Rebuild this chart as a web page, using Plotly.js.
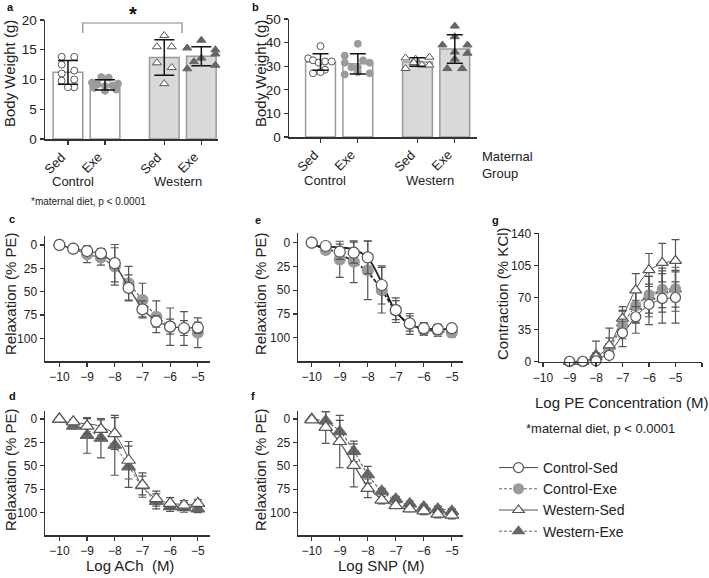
<!DOCTYPE html>
<html>
<head>
<meta charset="utf-8">
<script src="https://cdn.plot.ly/plotly-3.0.1.min.js"></script>
<style>body{margin:0;background:#fff}</style>
</head>
<body>
<div id="graph" style="width:709px;height:578px"></div>
<script>
// ---- body weight bars (a, b) ----
var barGroups = ['Sed', 'Exe', 'Sed', 'Exe'];
var barPos = [0, 1, 2.6, 3.6];

var wtA_mean = [11.2, 9.1, 13.7, 13.9];
var wtA_sd = [2.0, 0.85, 3.0, 1.6];
var wtA_ctrlSed = [13.8, 13.8, 12.5, 11.5, 11.0, 10.0, 9.8, 8.7, 8.7];
var wtA_ctrlExe = [10.4, 10.3, 9.5, 9.3, 9.2, 9.0, 8.9, 8.6, 8.3, 8.1];
var wtA_westSed = [17.4, 15.5, 15.5, 12.8, 12.0, 9.3];
var wtA_westExe = [16.6, 15.3, 15.0, 14.3, 13.6, 13.0, 12.4, 11.8];

var wtB_mean = [31.8, 31.0, 31.8, 37.3];
var wtB_sd = [3.5, 4.3, 1.8, 6.0];
var wtB_ctrlSed = [38.5, 33.3, 32.5, 32.0, 32.0, 31.5, 28.5, 27.0, 27.5];
var wtB_ctrlExe = [39.5, 34.5, 32.5, 31.5, 31.5, 29.5, 29.5, 27.5, 27.0, 26.5];
var wtB_westSed = [33.5, 33.0, 33.8, 31.5, 30.5, 30.5, 29.0];
var wtB_westExe = [47, 42.5, 39, 39, 36, 35.5, 33, 29, 29];

// horizontal scatter of the dots inside each bar
var jitA = [[-0.17, 0.17, -0.17, 0.17, -0.17, 0.17, -0.17, 0.17, 0],
            [-0.1, 0.1, -0.35, 0.35, -0.2, 0.2, 0, -0.3, 0.3, 0],
            [0, -0.2, 0.2, -0.2, 0.2, 0],
            [0, -0.38, 0.38, 0.38, 0, -0.2, 0.38, -0.38]];
var jitB = [[0, -0.33, -0.2, 0.12, 0.3, -0.05, 0.12, -0.2, 0],
            [0, -0.35, 0.14, -0.35, 0.32, -0.17, 0, 0, 0.32, -0.35],
            [-0.32, -0.05, 0.32, -0.1, 0.12, 0.32, -0.32],
            [0, 0, -0.33, 0.34, 0, 0.34, 0, -0.2, 0.2]];

// ---- concentration response (c - g) ----
var logDose = [-10, -9.5, -9, -8.5, -8, -7.5, -7, -6.5, -6, -5.5, -5];

var c_ctrlSed = [0, 4, 6.5, 9, 19.5, 46, 69, 82, 87.5, 89, 88.5];
var c_ctrlSed_sd = [0, 1, 3, 5, 20, 14, 9, 6, 8, 8, 6];
var c_ctrlExe = [0, 4, 10, 13.5, 23, 41, 59, 77, 87.5, 89.5, 94];
var c_ctrlExe_sd = [0, 2, 9, 8, 20, 18, 18, 17, 20, 18, 16];

var e_ctrlSed = [0, 3.5, 9.5, 10.5, 15.5, 44.5, 71, 85, 90, 91, 90];
var e_ctrlSed_sd = [0, 2, 8, 11, 17, 20, 13, 8, 6, 5, 4];
var e_ctrlExe = [0, 7.5, 17.5, 20, 29, 50, 71, 85.5, 91.5, 92.5, 94.5];
var e_ctrlExe_sd = [0, 3, 19, 22, 31, 24, 10, 11, 6, 6, 5];
var e_fitSed = [3, 4, 5, 7, 16, 42, 72, 86, 90, 91, 91];
var e_fitExe = [3, 6, 12, 20, 31, 50, 72, 86, 91, 93, 94];

var d_westSed = [0, 3, 7.5, 11, 15.5, 44, 70.5, 85, 90, 92, 90];
var d_westSed_sd = [0, 2, 8, 10, 17, 20, 13, 8, 6, 5, 4];
var d_westExe = [0, 7.5, 17.5, 20.5, 28, 51, 71, 88, 93.5, 94.5, 96];
var d_westExe_sd = [0, 3, 19, 21, 32, 22, 10, 8, 5, 5, 4];
var d_fitSed = [3, 4, 5, 8, 17, 42, 72, 85, 90, 91, 91];
var d_fitExe = [3, 6, 12, 19, 30, 50, 73, 87, 92, 94, 95];

var f_westSed = [1, 9, 24, 49.5, 74, 86.5, 92.5, 96, 98, 101.5, 102.5];
var f_westSed_sd = [0, 17, 28, 23, 10, 4, 3, 3, 4, 4, 4];
var f_westExe = [0, 2, 13.5, 34.5, 59.5, 77, 85.5, 90.5, 94, 96, 98.5];
var f_westExe_sd = [0, 10, 12, 11, 9, 3, 3, 3, 3, 3, 3];
var f_fitSed = [0, 8, 25, 49, 72, 86, 93, 97, 99, 100, 100];
var f_fitExe = [0, 3, 13, 34, 59, 77, 87, 92, 95, 96, 97];

var logPE = [-9, -8.5, -8, -7.5, -7, -6.5, -6, -5.5, -5];
var g_ctrlSed = [0.5, 0.5, 1, 7, 31.5, 49, 62.5, 69, 70];
var g_ctrlSed_sd = [0, 0, 1, 3, 15, 18, 22, 27, 28];
var g_ctrlExe = [0, 0, 2.5, 14.5, 40, 61, 73, 79, 79.5];
var g_ctrlExe_sd = [0, 0, 2, 5, 15, 18, 20, 20, 20];
var g_westSed = [0, 0, 5.5, 18, 47, 78, 100, 108, 110];
var g_westSed_sd = [0, 0, 4, 8, 13, 18, 18, 21, 23];
var g_westExe = [0, 0, 7.5, 16.5, 42, 60, 71, 78, 79];
var g_westExe_sd = [0, 0, 15, 20, 14, 18, 22, 24, 24];
var g_fitCS = [0, 0.5, 2.5, 10, 29, 49, 62, 68, 70];
var g_fitCE = [0, 1, 4, 15, 39, 61, 73, 78, 80];
var g_fitWS = [0, 1, 5, 18, 48, 79, 99, 107, 110];
var g_fitWE = [0, 1, 5, 17, 41, 60, 71, 76, 79];

var groupNames = ['Control-Sed', 'Control-Exe', 'Western-Sed', 'Western-Exe'];

////////////////////////////////////////////////////
var W = 709, H = 578;
function px(x) { return x / W; }
function py(y) { return 1 - y / H; }
var fam = '"Liberation Sans", Arial, Helvetica, sans-serif';

var styles = {
	cs: {symbol: 'circle', fill: '#ffffff', edge: '#555', dash: 'solid', lc: '#444'},
	ce: {symbol: 'circle', fill: '#9b9b9b', edge: '#9b9b9b', dash: '3px,2px', lc: '#666'},
	ws: {symbol: 'triangle-up', fill: '#ffffff', edge: '#555', dash: 'solid', lc: '#555'},
	we: {symbol: 'triangle-up', fill: '#666666', edge: '#666666', dash: '3px,2px', lc: '#666'}
};

var data = [];

function dots(xa, ya, center, jit, vals, st, size) {
	var xs = [];
	for (var i = 0; i < vals.length; i++) xs.push(center + jit[i]);
	data.push({
		x: xs, y: vals, xaxis: xa, yaxis: ya, type: 'scatter', mode: 'markers',
		marker: {symbol: st.symbol, size: size, color: st.fill, line: {color: st.edge, width: 1}},
		showlegend: false, hoverinfo: 'skip', cliponaxis: false
	});
}

function bars(xa, ya, mean, sd, sets, jit, capw) {
	data.push({
		x: barPos, y: mean, xaxis: xa, yaxis: ya, type: 'bar', width: 0.8,
		marker: {color: ['#ffffff', '#ffffff', '#d9d9d9', '#d9d9d9'], line: {color: '#9a9a9a', width: 1.5}},
		showlegend: false, hoverinfo: 'skip'
	});
	var keys = ['cs', 'ce', 'ws', 'we'];
	for (var k = 0; k < 4; k++) dots(xa, ya, barPos[k], jit[k], sets[k], styles[keys[k]], keys[k].charAt(0) == 'w' ? 8 : 7);
	data.push({
		x: barPos, y: mean, xaxis: xa, yaxis: ya, type: 'scatter', mode: 'markers',
		marker: {size: 1, color: 'rgba(0,0,0,0)'},
		error_y: {type: 'data', array: sd, visible: true, color: '#111', thickness: 1.5, width: capw},
		showlegend: false, hoverinfo: 'skip'
	});
}

function fit(xa, ya, xs, ys, st, w) {
	data.push({
		x: xs, y: ys, xaxis: xa, yaxis: ya, type: 'scatter', mode: 'lines',
		line: {shape: 'spline', smoothing: 1, color: st.lc, width: w, dash: st.dash},
		showlegend: false, hoverinfo: 'skip'
	});
}

function pts(xa, ya, xs, ys, sd, st, size, connect, lw) {
	data.push({
		x: xs, y: ys, xaxis: xa, yaxis: ya, type: 'scatter', mode: connect ? 'lines+markers' : 'markers',
		line: {color: st.lc, width: lw || 1.2, dash: st.dash},
		marker: {symbol: st.symbol, size: size, color: st.fill, line: {color: st.edge, width: 1.2}},
		error_y: {type: 'data', array: sd, visible: true, color: '#555', thickness: 1.2, width: 4},
		showlegend: false, hoverinfo: 'skip', cliponaxis: false
	});
}

// a, b
bars('x', 'y', wtA_mean, wtA_sd, [wtA_ctrlSed, wtA_ctrlExe, wtA_westSed, wtA_westExe], jitA, 10);
bars('x2', 'y2', wtB_mean, wtB_sd, [wtB_ctrlSed, wtB_ctrlExe, wtB_westSed, wtB_westExe], jitB, 8);

// c: points joined
pts('x3', 'y3', logDose, c_ctrlExe, c_ctrlExe_sd, styles.ce, 11, true, 1.2);
pts('x3', 'y3', logDose, c_ctrlSed, c_ctrlSed_sd, styles.cs, 11, true, 1.2);

// e
fit('x4', 'y4', logDose, e_fitExe, {lc: '#222', dash: '4px,2px'}, 1.8);
fit('x4', 'y4', logDose, e_fitSed, {lc: '#222', dash: 'solid'}, 1.8);
pts('x4', 'y4', logDose, e_ctrlExe, e_ctrlExe_sd, styles.ce, 11, false);
pts('x4', 'y4', logDose, e_ctrlSed, e_ctrlSed_sd, styles.cs, 11, false);

// d
fit('x6', 'y6', logDose, d_fitExe, styles.we, 1);
fit('x6', 'y6', logDose, d_fitSed, styles.ws, 1);
pts('x6', 'y6', logDose, d_westExe, d_westExe_sd, styles.we, 12, false);
pts('x6', 'y6', logDose, d_westSed, d_westSed_sd, styles.ws, 12, false);

// f
fit('x7', 'y7', logDose, f_fitExe, styles.we, 1.2);
fit('x7', 'y7', logDose, f_fitSed, styles.ws, 1.2);
pts('x7', 'y7', logDose, f_westExe, f_westExe_sd, styles.we, 12, false);
pts('x7', 'y7', logDose, f_westSed, f_westSed_sd, styles.ws, 12, false);

// g
fit('x5', 'y5', logPE, g_fitWE, styles.we, 1);
fit('x5', 'y5', logPE, g_fitCE, styles.ce, 1);
fit('x5', 'y5', logPE, g_fitWS, styles.ws, 1);
fit('x5', 'y5', logPE, g_fitCS, styles.cs, 1);
pts('x5', 'y5', logPE, g_westExe, g_westExe_sd, styles.we, 10.5, false);
pts('x5', 'y5', logPE, g_ctrlExe, g_ctrlExe_sd, styles.ce, 10, false);
pts('x5', 'y5', logPE, g_westSed, g_westSed_sd, styles.ws, 10.5, false);
pts('x5', 'y5', logPE, g_ctrlSed, g_ctrlSed_sd, styles.cs, 10, false);

// legend entries
['cs', 'ce', 'ws', 'we'].forEach(function (k, i) {
	var st = styles[k];
	data.push({
		x: [null], y: [null], xaxis: 'x5', yaxis: 'y5', type: 'scatter', mode: 'lines+markers',
		name: groupNames[i],
		line: {color: st.lc, width: 1, dash: st.dash},
		marker: {symbol: st.symbol, size: 10, color: st.fill, line: {color: st.edge, width: 1.2}},
		showlegend: true
	});
});

////////////////////////////////////////////////////
var axBase = {showline: true, linecolor: '#333', linewidth: 1.5, ticks: 'outside', ticklen: 4,
	tickwidth: 1.2, tickcolor: '#333', showgrid: false, zeroline: false, fixedrange: true,
	tickfont: {size: 12, color: '#222'}};
function ax(o) { return Object.assign({}, axBase, o); }

var doseTicks = [-10, -9, -8, -7, -6, -5];
var relTicks = [0, 25, 50, 75, 100];

var ann = [];
function txt(x, y, s, o) {
	ann.push(Object.assign({x: px(x), y: py(y), xref: 'paper', yref: 'paper', text: s, showarrow: false,
		font: {size: 13, color: '#222'}, xanchor: 'center', yanchor: 'middle'}, o || {}));
}
// slanted category labels under the bars
barGroups.forEach(function (lab, i) {
	ann.push({x: barPos[i] + 0.08, y: py(147), xref: 'x', yref: 'paper', text: lab, showarrow: false,
		textangle: -45, xanchor: 'right', yanchor: 'top', font: {size: 13, color: '#222'}});
	ann.push({x: barPos[i] + 0.08, y: py(145), xref: 'x2', yref: 'paper', text: lab, showarrow: false,
		textangle: -45, xanchor: 'right', yanchor: 'top', font: {size: 13, color: '#222'}});
});
// panel letters
[['a', 10, 7], ['b', 255, 7], ['c', 12, 219], ['e', 258, 220], ['g', 495, 220], ['d', 12, 396], ['f', 253, 396]]
	.forEach(function (p) { txt(p[1], p[2], '<b>' + p[0] + '</b>', {font: {size: 11, color: '#111'}}); });
// y titles
var yt = {textangle: -90, font: {size: 15, color: '#222'}};
txt(10, 74, 'Body Weight (g)', yt);
txt(261, 74, 'Body Weight (g)', yt);
txt(10, 294, 'Relaxation (% PE)', yt);
txt(260, 294, 'Relaxation (% PE)', yt);
txt(502, 294, 'Contraction (% KCl)', yt);
txt(10, 470, 'Relaxation (% PE)', yt);
txt(260, 470, 'Relaxation (% PE)', yt);
// x titles
txt(130, 565, 'Log ACh  (M)', {font: {size: 15, color: '#222'}});
txt(381, 565, 'Log SNP (M)', {font: {size: 15, color: '#222'}});
txt(621, 402, 'Log PE Concentration (M)', {font: {size: 15, color: '#222'}});
// group labels
txt(73, 181, 'Control');
txt(178, 181, 'Western');
txt(325, 180, 'Control');
txt(430, 180, 'Western');
txt(480, 165, 'Maternal<br>Group', {xanchor: 'left', align: 'left'});
// notes
txt(88, 201, '*maternal diet, p &lt; 0.0001', {font: {size: 10, color: '#222'}});
txt(600, 428, '*maternal diet, p &lt; 0.0001', {font: {size: 13, color: '#222'}});
txt(133, 14, '<b>*</b>', {font: {size: 20, color: '#111'}});

var layout = {
	width: W, height: H,
	margin: {l: 0, r: 0, t: 0, b: 0},
	paper_bgcolor: '#fff', plot_bgcolor: 'rgba(0,0,0,0)',
	font: {family: fam, color: '#222'},
	showlegend: true,
	legend: {x: px(494), y: py(452), xanchor: 'left', yanchor: 'top', bgcolor: 'rgba(0,0,0,0)',
		font: {size: 14, color: '#222'}, itemwidth: 39, tracegroupgap: 0},
	xaxis: ax({domain: [px(45), px(218)], range: [-0.62, 4.05], anchor: 'y', tickvals: barPos, showticklabels: false}),
	yaxis: ax({domain: [py(139), py(20)], range: [0, 20], anchor: 'x', tickvals: [0, 5, 10, 15, 20],
		tickfont: {size: 13.5, color: '#222'}}),
	xaxis2: ax({domain: [px(289), px(477)], range: [-0.845, 4.196], anchor: 'y2', tickvals: barPos, showticklabels: false}),
	yaxis2: ax({domain: [py(137), py(19)], range: [0, 50], anchor: 'x2', tickvals: [0, 10, 20, 30, 40, 50],
		tickfont: {size: 13.5, color: '#222'}}),
	xaxis3: ax({domain: [px(45), px(210)], range: [-10.52, -4.56], anchor: 'y3', tickvals: doseTicks}),
	yaxis3: ax({domain: [py(361), py(236)], range: [124.3, -9.6], anchor: 'x3', tickvals: relTicks}),
	xaxis4: ax({domain: [px(298), px(463)], range: [-10.49, -4.6], anchor: 'y4', tickvals: doseTicks}),
	yaxis4: ax({domain: [py(361), py(233)], range: [124.5, -10.2], anchor: 'x4', tickvals: relTicks}),
	xaxis5: ax({domain: [px(539), px(702)], range: [-10.15, -4], anchor: 'y5', tickvals: [-10, -9, -8, -7, -6, -5, -4]}),
	yaxis5: ax({domain: [py(361.7), py(233.3)], range: [0, 140], anchor: 'x5', tickvals: [0, 35, 70, 105, 140]}),
	xaxis6: ax({domain: [px(45), px(210)], range: [-10.52, -4.56], anchor: 'y6', tickvals: doseTicks}),
	yaxis6: ax({domain: [py(535), py(410.7)], range: [123.8, -8.9], anchor: 'x6', tickvals: relTicks}),
	xaxis7: ax({domain: [px(298), px(463)], range: [-10.49, -4.6], anchor: 'y7', tickvals: doseTicks}),
	yaxis7: ax({domain: [py(535), py(410.7)], range: [123.8, -8.9], anchor: 'x7', tickvals: relTicks}),
	shapes: [{type: 'path', xref: 'x', yref: 'y', path: 'M0.4,17.8 L0.4,19.5 L3.08,19.5 L3.08,17.8',
		line: {color: '#888', width: 1.2}}],
	annotations: ann
};

Plotly.newPlot('graph', data, layout, {staticPlot: true, displayModeBar: false});
</script>
</body>
</html>
